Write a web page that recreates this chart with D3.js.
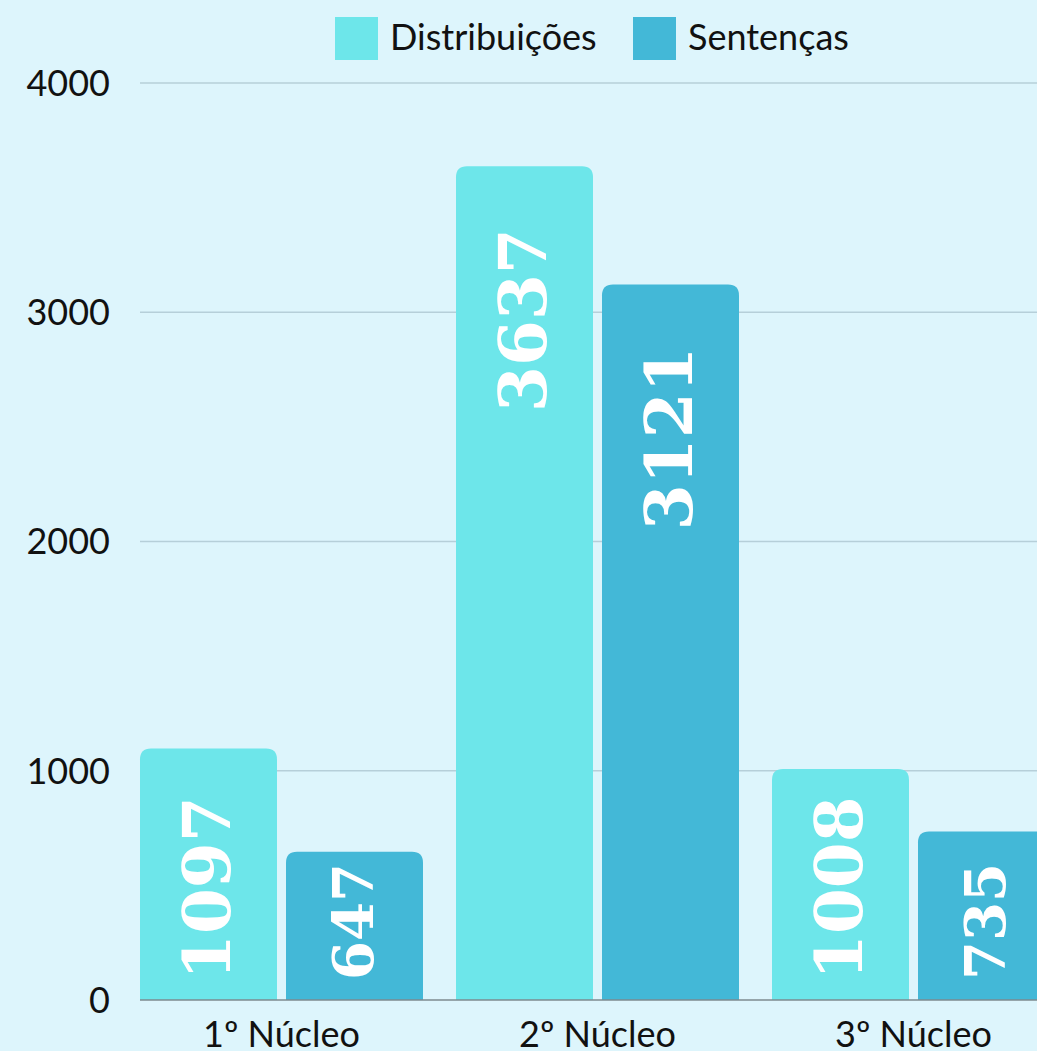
<!DOCTYPE html>
<html>
<head>
<meta charset="utf-8">
<script src="https://cdn.jsdelivr.net/npm/d3@7"></script>
<style>
  html, body { margin: 0; padding: 0; background: #ddf5fc; overflow: hidden; }
  svg { display: block; }
</style>
</head>
<body>
<div id="chart"></div>
<script>
// data
const categories = ["1º Núcleo", "2º Núcleo", "3º Núcleo"];
const seriesNames = ["Distribuições", "Sentenças"];
const distribuicoes = [1097, 3637, 1008];
const sentencas = [647, 3121, 735];
const yTicks = [0, 1000, 2000, 3000, 4000];
const colors = ["#6de6ea", "#43b8d7"];

const width = 1037, height = 1051;
const plotLeft = 140, plotRight = 1037;

const svg = d3.select("#chart")
  .append("svg")
    .attr("width", width)
    .attr("height", height);

svg.append("rect")
  .attr("width", width).attr("height", height)
  .attr("fill", "#ddf5fc");

const y = d3.scaleLinear()
  .domain([0, 4000])
  .range([1000, 83]);

// groups step 316px, first group starts at 140
const x0 = d3.scaleBand()
  .domain(categories)
  .range([123.5, 1071.5])
  .paddingInner(33 / 316)
  .paddingOuter(33 / 316 / 2);

const x1 = d3.scaleBand()
  .domain(seriesNames)
  .range([0, x0.bandwidth()])
  .paddingInner(9 / 146);

// gridlines
svg.append("g")
  .selectAll("line")
  .data(yTicks.filter(d => d > 0))
  .join("line")
    .attr("x1", plotLeft).attr("x2", plotRight)
    .attr("y1", d => y(d)).attr("y2", d => y(d))
    .attr("stroke", "#b6cfd9")
    .attr("stroke-width", 1.5);

// y tick labels
svg.append("g")
  .selectAll("text")
  .data(yTicks)
  .join("text")
    .attr("x", 110)
    .attr("y", d => y(d))
    .attr("dy", "0.36em")
    .attr("text-anchor", "end")
    .attr("font-family", "Lato, sans-serif")
    .attr("font-size", 36)
    .attr("fill", "#111")
    .text(d => d);

const rows = categories.map((c, i) => ({
  cat: c,
  values: [
    {key: seriesNames[0], value: distribuicoes[i]},
    {key: seriesNames[1], value: sentencas[i]}
  ]
}));

// bar with rounded top corners only
function topRounded(x, yTop, w, h, r) {
  r = Math.min(r, h, w / 2);
  return `M${x},${yTop + h}V${yTop + r}Q${x},${yTop} ${x + r},${yTop}` +
    `H${x + w - r}Q${x + w},${yTop} ${x + w},${yTop + r}V${yTop + h}Z`;
}

const groups = svg.append("g")
  .selectAll("g")
  .data(rows)
  .join("g")
    .attr("transform", d => `translate(${x0(d.cat)},0)`);

groups.selectAll("path")
  .data(d => d.values)
  .join("path")
    .attr("fill", (d, i) => colors[i])
    .attr("d", d => topRounded(x1(d.key), y(d.value), x1.bandwidth(), y(0) - y(d.value), 11));

// value labels, smaller for the short bars
groups.selectAll("text.val")
  .data(d => d.values)
  .join("text")
    .attr("class", "val")
    .attr("font-family", "'DejaVu Serif', serif")
    .attr("font-weight", "bold")
    .attr("font-size", d => d.value < 1000 ? 56 : 66)
    .attr("fill", "#ffffff")
    .attr("text-anchor", "start")
    .attr("dy", "0.36em")
    .text(d => d.value)
    .attr("transform", function(d) {
      const len = this.getComputedTextLength();
      const topY = Math.min(y(d.value) + 62, 980 - len);
      return `translate(${x1(d.key) + x1.bandwidth() / 2 - 2},${topY + len}) rotate(-90)`;
    });

// baseline
svg.append("line")
  .attr("x1", plotLeft).attr("x2", plotRight)
  .attr("y1", y(0)).attr("y2", y(0))
  .attr("stroke", "#7d8a8f")
  .attr("stroke-width", 1.5);

// category labels
svg.append("g")
  .selectAll("text")
  .data(categories)
  .join("text")
    .attr("x", d => x0(d) + x0.bandwidth() / 2)
    .attr("y", 1047)
    .attr("text-anchor", "middle")
    .attr("font-family", "Lato, sans-serif")
    .attr("font-size", 36)
    .attr("fill", "#111")
    .text(d => d);

// legend
const legendX = [335, 633];
const legend = svg.append("g")
  .selectAll("g")
  .data(seriesNames)
  .join("g")
    .attr("transform", (d, i) => `translate(${legendX[i]},17)`);

legend.append("rect")
  .attr("width", 43).attr("height", 43)
  .attr("fill", (d, i) => colors[i]);

legend.append("text")
  .attr("x", 55)
  .attr("y", 33)
  .attr("font-family", "Lato, sans-serif")
  .attr("font-size", 36)
  .attr("fill", "#111")
  .text(d => d);
</script>
</body>
</html>
